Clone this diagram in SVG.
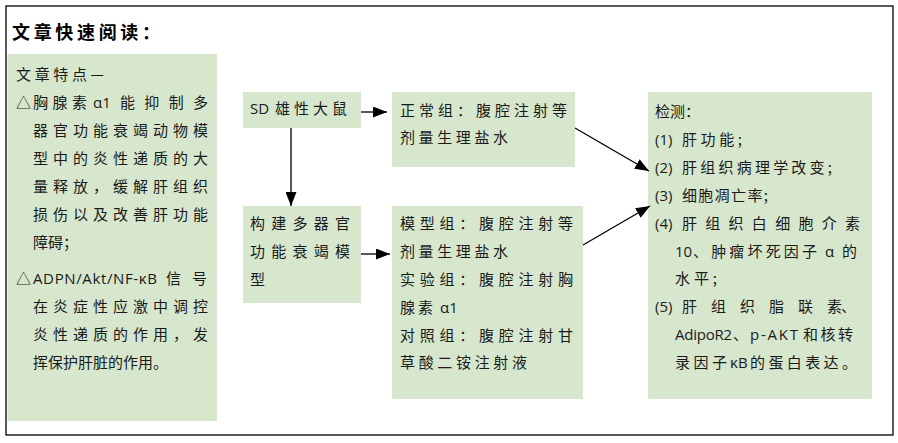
<svg xmlns="http://www.w3.org/2000/svg" width="898" height="443" viewBox="0 0 898 443">
<defs>
<style>
.box{fill:#d6e7cd;stroke:none}
.t{font-family:"Noto Sans CJK SC",sans-serif;font-size:15px;fill:#1a1a1a}
.l{font-family:"Open Sans","Noto Sans CJK SC",sans-serif;font-size:15px;fill:#1a1a1a}
.title{font-family:"Noto Sans CJK SC",sans-serif;font-size:18px;font-weight:bold;fill:#000}
.c{stroke:#000;stroke-width:1.3;fill:none}
</style>
<marker id="ah" markerUnits="userSpaceOnUse" markerWidth="15" markerHeight="11" refX="14" refY="5.5" orient="auto">
<path d="M0,0 L14,5.5 L0,11 z" fill="#000"/>
</marker>
</defs>
<rect x="0" y="0" width="898" height="443" fill="#fff"/>
<rect x="6" y="6" width="887" height="429" fill="#fff" stroke="#000" stroke-width="1.3"/>
<text class="title" x="12" y="39" textLength="148" lengthAdjust="spacing">文章快速阅读：</text>

<g id="features">
<rect class="box" x="7.5" y="54" width="209.5" height="367"/>
<text class="t" x="16" y="80" textLength="88" lengthAdjust="spacing">文章特点—</text>
<text class="t" x="16" y="108">△</text>
<text class="t" x="33" y="108" textLength="54" lengthAdjust="spacing">胸腺素</text>
<text class="l" x="93" y="108">α1</text>
<text class="t" x="120" y="108" textLength="88" lengthAdjust="spacing">能抑制多</text>
<text class="t" x="33" y="136" textLength="175" lengthAdjust="spacing">器官功能衰竭动物模</text>
<text class="t" x="33" y="164" textLength="175" lengthAdjust="spacing">型中的炎性递质的大</text>
<text class="t" x="33" y="192" textLength="175" lengthAdjust="spacing">量释放，缓解肝组织</text>
<text class="t" x="33" y="220" textLength="175" lengthAdjust="spacing">损伤以及改善肝功能</text>
<text class="t" x="33" y="248">障碍；</text>
<text class="t" x="16" y="284">△</text>
<text class="l" x="33" y="284" textLength="124" lengthAdjust="spacing">ADPN/Akt/NF-κB</text>
<text class="t" x="166" y="284">信</text>
<text class="t" x="192" y="284">号</text>
<text class="t" x="33" y="312" textLength="175" lengthAdjust="spacing">在炎症性应激中调控</text>
<text class="t" x="33" y="340" textLength="175" lengthAdjust="spacing">炎性递质的作用，发</text>
<text class="t" x="33" y="368">挥保护肝脏的作用。</text>
</g>

<g id="rats">
<rect class="box" x="243" y="92" width="118" height="36"/>
<text class="l" x="250" y="114">SD</text>
<text class="t" x="275" y="114" textLength="72" lengthAdjust="spacing">雄性大鼠</text>
</g>

<g id="normal">
<rect class="box" x="392" y="92" width="183" height="75"/>
<text class="t" x="400" y="116" textLength="167" lengthAdjust="spacing">正常组：腹腔注射等</text>
<text class="t" x="400" y="143" textLength="108" lengthAdjust="spacing">剂量生理盐水</text>
</g>

<g id="model">
<rect class="box" x="243" y="206" width="118" height="97"/>
<text class="t" x="250" y="229" textLength="100" lengthAdjust="spacing">构建多器官</text>
<text class="t" x="250" y="257" textLength="100" lengthAdjust="spacing">功能衰竭模</text>
<text class="t" x="250" y="285">型</text>
</g>

<g id="groups">
<rect class="box" x="392" y="206" width="191" height="193"/>
<text class="t" x="400" y="229" textLength="173" lengthAdjust="spacing">模型组：腹腔注射等</text>
<text class="t" x="400" y="257" textLength="108" lengthAdjust="spacing">剂量生理盐水</text>
<text class="t" x="400" y="285" textLength="173" lengthAdjust="spacing">实验组：腹腔注射胸</text>
<text class="t" x="400" y="313" textLength="33" lengthAdjust="spacing">腺素</text>
<text class="l" x="440" y="313">α1</text>
<text class="t" x="400" y="341" textLength="173" lengthAdjust="spacing">对照组：腹腔注射甘</text>
<text class="t" x="400" y="368" textLength="127" lengthAdjust="spacing">草酸二铵注射液</text>
</g>

<g id="detection">
<rect class="box" x="648" y="92" width="224" height="307"/>
<text class="t" x="655" y="117">检测：</text>
<text class="l" x="655" y="145">(1)</text>
<text class="t" x="682" y="145" textLength="60" lengthAdjust="spacing">肝功能;</text>
<text class="l" x="655" y="173">(2)</text>
<text class="t" x="682" y="173" textLength="150" lengthAdjust="spacing">肝组织病理学改变;</text>
<text class="l" x="655" y="201">(3)</text>
<text class="t" x="682" y="201" textLength="86" lengthAdjust="spacing">细胞凋亡率;</text>
<text class="l" x="655" y="229">(4)</text>
<text class="t" x="682" y="229" textLength="178" lengthAdjust="spacing">肝组织白细胞介素</text>
<text class="l" x="675" y="257">10</text>
<text class="t" x="693" y="257" textLength="124" lengthAdjust="spacing">、肿瘤坏死因子</text>
<text class="l" x="825" y="257">α</text>
<text class="t" x="842" y="257">的</text>
<text class="t" x="675" y="284" textLength="42" lengthAdjust="spacing">水平;</text>
<text class="l" x="655" y="312">(5)</text>
<text class="t" x="682" y="312" textLength="160" lengthAdjust="spacing">肝组织脂联素</text>
<text class="t" x="841" y="312">、</text>
<text class="l" x="675" y="340" textLength="57" lengthAdjust="spacing">AdipoR2</text>
<text class="t" x="733" y="340">、</text>
<text class="l" x="750" y="340" textLength="48" lengthAdjust="spacing">p-AKT</text>
<text class="t" x="803" y="340" textLength="50" lengthAdjust="spacing">和核转</text>
<text class="t" x="675" y="368" textLength="52" lengthAdjust="spacing">录因子</text>
<text class="l" x="730" y="368">κB</text>
<text class="t" x="750" y="368" textLength="107" lengthAdjust="spacing">的蛋白表达。</text>
</g>

<g id="connectors">
<line class="c" x1="361" y1="112" x2="387" y2="112" marker-end="url(#ah)"/>
<line class="c" x1="291" y1="128" x2="291" y2="206" marker-end="url(#ah)"/>
<line class="c" x1="361" y1="254" x2="390" y2="254" marker-end="url(#ah)"/>
<line class="c" x1="575" y1="128" x2="649" y2="171" marker-end="url(#ah)"/>
<line class="c" x1="583" y1="245" x2="650" y2="206" marker-end="url(#ah)"/>
</g>
</svg>
